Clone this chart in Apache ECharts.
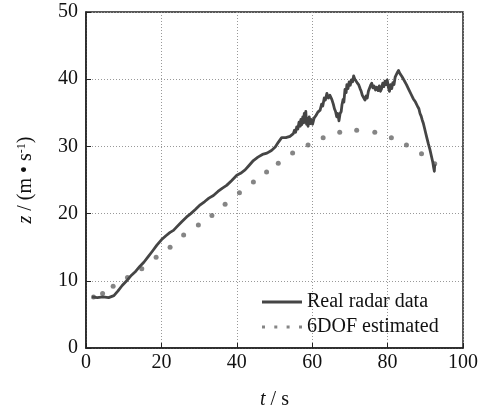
<!DOCTYPE html>
<html>
<head>
<meta charset="utf-8">
<script src="https://cdn.jsdelivr.net/npm/echarts@6/dist/echarts.min.js"></script>
<style>
  html, body { margin: 0; padding: 0; background: #fff; }
  #chart { width: 493px; height: 411px; }
</style>
</head>
<body>
<div id="chart"></div>
<script>
// Measured radar velocity [t (s), z (m/s)]
const radarData = [
  [1.6, 7.6], [3.0, 7.5], [4.5, 7.6], [6.0, 7.5], [7.4, 7.8],
  [8.5, 8.5], [9.6, 9.3], [10.8, 10.0], [12.0, 10.8], [13.0, 11.3], [14.2, 12.1],
  [15.4, 12.8], [16.5, 13.6], [17.6, 14.4], [18.8, 15.3], [20.0, 16.1],
  [21.2, 16.7], [22.3, 17.2], [23.2, 17.5], [24.2, 18.1], [25.4, 18.8],
  [26.7, 19.5], [27.8, 20.0], [29.0, 20.6], [30.3, 21.3], [31.5, 21.8],
  [32.6, 22.3], [33.8, 22.7], [35.0, 23.3], [36.2, 23.8], [37.3, 24.2],
  [38.6, 24.9], [40.0, 25.7], [41.0, 26.0], [42.2, 26.5], [43.3, 27.2],
  [44.4, 27.9], [45.6, 28.4], [46.8, 28.8], [48.0, 29.0], [49.2, 29.4],
  [50.2, 29.9], [51.0, 30.6], [51.9, 31.3], [53.0, 31.3], [54.1, 31.5],
  [55.0, 31.9], [55.3, 32.4], [55.6, 32.1], [55.9, 32.9], [56.2, 32.6],
  [56.5, 33.6], [56.8, 33.0], [57.0, 34.0], [57.2, 33.2], [57.5, 34.4],
  [57.7, 33.5], [57.9, 34.9], [58.1, 33.6], [58.3, 35.2], [58.5, 33.3],
  [58.7, 34.2], [58.9, 33.0], [59.2, 34.4], [59.5, 33.4], [59.8, 34.0],
  [60.1, 33.3], [60.5, 34.2], [61.0, 34.6], [61.5, 35.1], [62.1, 35.4],
  [62.5, 36.3], [62.8, 36.0], [63.2, 37.2], [63.5, 36.9], [63.9, 37.9],
  [64.3, 37.2], [64.7, 37.6], [65.2, 37.0], [65.6, 36.3], [65.9, 35.6],
  [66.2, 35.2], [66.5, 34.4], [66.8, 34.9], [67.1, 33.8], [67.4, 34.9],
  [67.7, 35.2], [67.9, 36.2], [68.2, 37.0], [68.4, 36.6], [68.7, 38.5],
  [69.0, 38.0], [69.2, 39.2], [69.5, 38.6], [69.8, 39.6], [70.1, 39.1],
  [70.4, 39.9], [70.7, 39.6], [71.0, 40.5], [71.3, 40.0], [71.6, 40.2],
  [71.9, 39.5], [72.3, 39.2], [72.7, 38.6], [73.0, 38.2], [73.3, 37.6],
  [73.7, 37.4], [74.0, 36.9], [74.3, 37.5], [74.6, 37.2], [74.9, 38.2],
  [75.2, 38.0], [75.5, 39.1], [75.8, 39.4], [76.1, 38.7], [76.4, 39.0],
  [76.8, 38.4], [77.1, 38.8], [77.5, 38.3], [77.8, 39.0], [78.1, 38.2],
  [78.4, 38.6], [78.7, 39.4], [79.0, 38.9], [79.3, 39.7], [79.6, 39.2],
  [79.9, 39.9], [80.2, 38.8], [80.5, 38.2], [80.8, 39.2], [81.1, 38.6],
  [81.4, 39.5], [81.7, 39.2], [82.0, 40.3], [82.3, 40.1], [82.6, 41.0],
  [82.9, 41.3], [83.2, 40.9], [83.5, 41.0], [83.8, 40.4], [84.1, 40.5],
  [84.4, 39.8], [84.7, 39.9], [85.0, 39.2], [85.3, 39.3], [85.6, 38.5],
  [85.9, 38.6], [86.2, 37.8], [86.5, 37.9], [86.8, 37.1], [87.1, 37.2],
  [87.4, 36.6], [87.7, 36.4], [88.0, 35.9], [88.3, 35.6], [88.6, 34.9],
  [88.9, 34.5], [89.2, 33.9], [89.5, 33.4], [89.8, 32.7], [90.1, 32.0],
  [90.4, 31.3], [90.8, 30.4], [91.2, 29.6], [91.6, 28.6], [92.0, 27.6],
  [92.2, 26.9], [92.4, 26.3], [92.5, 27.3]
];

// 6DOF model estimate [t (s), z (m/s)]
const dofData = [
  [2.0, 7.6], [4.4, 8.1], [7.2, 9.2], [11.0, 10.5], [14.8, 11.8], [18.6, 13.5],
  [22.3, 15.0], [25.9, 16.8], [29.8, 18.3], [33.4, 19.7], [36.9, 21.4],
  [40.7, 23.1], [44.4, 24.7], [47.9, 26.2], [51.0, 27.5], [54.8, 29.0],
  [58.9, 30.2], [62.9, 31.3], [67.3, 32.1], [71.8, 32.4], [76.6, 32.1],
  [81.0, 31.3], [85.0, 30.2], [89.0, 28.9], [92.5, 27.4]
];

const seriesNames = ['Real radar data', '6DOF estimated'];
const xTicks = { min: 0, max: 100, step: 20 };
const yTicks = { min: 0, max: 50, step: 10 };

const serif = 'Liberation Serif, Times New Roman, serif';
const chart = echarts.init(document.getElementById('chart'), null, { renderer: 'canvas' });

chart.setOption({
  backgroundColor: '#fff',
  animation: false,
  textStyle: { fontFamily: serif, color: '#111' },
  grid: {
    left: 86, right: 30, top: 12, bottom: 63,
    containLabel: false, outerBoundsMode: 'none',
    show: true, borderColor: '#222', borderWidth: 1.5, backgroundColor: 'transparent'
  },
  legend: {
    orient: 'vertical',
    left: 257, top: 287,
    itemWidth: 40, itemHeight: 3, itemGap: 5,
    textStyle: { fontFamily: serif, fontSize: 20, color: '#111' },
    data: [
      { name: seriesNames[0], icon: 'path://M0,0h40v3h-40z', itemStyle: { color: '#454545' } },
      { name: seriesNames[1], icon: 'path://M0,0h3v3h-3zM12.3,0h3v3h-3zM24.6,0h3v3h-3zM37,0h3v3h-3z', itemStyle: { color: '#666' } }
    ]
  },
  xAxis: {
    type: 'value',
    min: xTicks.min, max: xTicks.max, interval: xTicks.step,
    name: '{i|t} / s',
    nameLocation: 'middle', nameGap: 42,
    nameTextStyle: {
      fontFamily: serif, fontSize: 20, color: '#111',
      rich: { i: { fontFamily: serif, fontSize: 20, fontStyle: 'italic', color: '#111' } }
    },
    axisLine: { show: true, lineStyle: { color: '#222', width: 1.5 } },
    axisTick: { show: true, inside: true, length: 5, lineStyle: { color: '#222' } },
    axisLabel: { fontFamily: serif, fontSize: 20, color: '#111', margin: 5 },
    splitLine: { show: true, lineStyle: { color: '#999', type: [1, 2], width: 1 } }
  },
  yAxis: {
    type: 'value',
    min: yTicks.min, max: yTicks.max, interval: yTicks.step,
    name: '{i|z} / (m • s{s|-1})',
    nameLocation: 'middle', nameGap: 50, nameRotate: 90,
    nameTextStyle: {
      fontFamily: serif, fontSize: 20, color: '#111',
      rich: {
        i: { fontFamily: serif, fontSize: 20, fontStyle: 'italic', color: '#111' },
        s: { fontFamily: serif, fontSize: 12, color: '#111', verticalAlign: 'top' }
      }
    },
    axisLine: { show: true, lineStyle: { color: '#222', width: 1.5 } },
    axisTick: { show: true, inside: true, length: 5, lineStyle: { color: '#222' } },
    axisLabel: { fontFamily: serif, fontSize: 20, color: '#111', margin: 8 },
    splitLine: { show: true, lineStyle: { color: '#999', type: [1, 2], width: 1 } }
  },
  series: [
    {
      name: seriesNames[0],
      type: 'line',
      data: radarData,
      showSymbol: false,
      symbol: 'none',
      lineStyle: { color: '#454545', width: 2.8, join: 'round' },
      itemStyle: { color: '#454545' },
      z: 3
    },
    {
      name: seriesNames[1],
      type: 'scatter',
      data: dofData,
      symbol: 'circle',
      symbolSize: 5,
      itemStyle: { color: '#666' },
      z: 2
    }
  ]
});
</script>
</body>
</html>
